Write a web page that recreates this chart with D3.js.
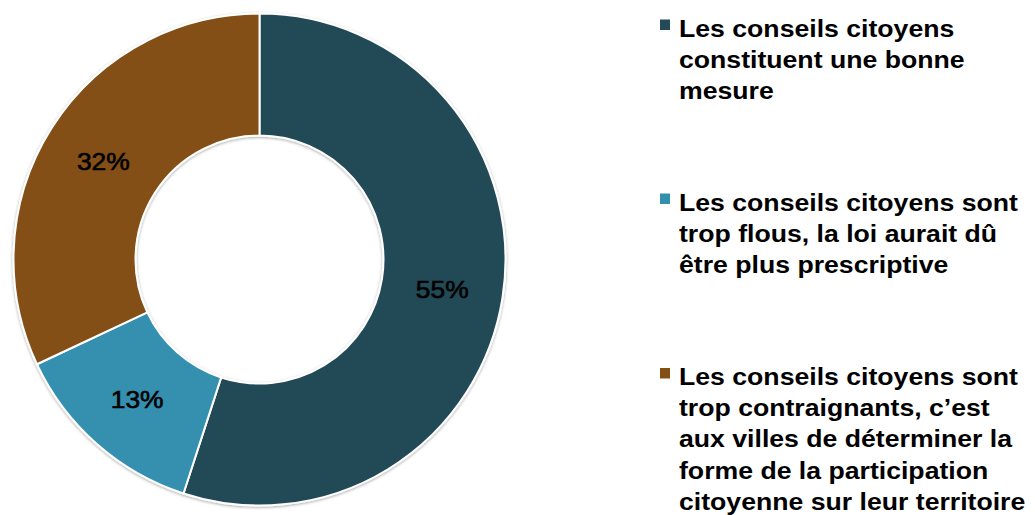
<!DOCTYPE html>
<html>
<head>
<meta charset="utf-8">
<script src="https://cdn.jsdelivr.net/npm/d3@7"></script>
<style>
  html, body { margin: 0; padding: 0; background: #ffffff; }
  svg { display: block; }
  text { font-family: "Liberation Sans", Arial, Helvetica, sans-serif; }
</style>
</head>
<body>
<svg id="chart" width="1035" height="515"></svg>
<script>
// Survey answers on the "conseils citoyens"
const categories = [
  "Les conseils citoyens constituent une bonne mesure",
  "Les conseils citoyens sont trop flous, la loi aurait dû être plus prescriptive",
  "Les conseils citoyens sont trop contraignants, c’est aux villes de déterminer la forme de la participation citoyenne sur leur territoire"
];
const values = [55, 13, 32];
const percentLabels = ["55%", "13%", "32%"];
const legendLines = [
  ["Les conseils citoyens", "constituent une bonne", "mesure"],
  ["Les conseils citoyens sont", "trop flous, la loi aurait dû", "être plus prescriptive"],
  ["Les conseils citoyens sont", "trop contraignants, c’est", "aux villes de déterminer la", "forme de la participation", "citoyenne sur leur territoire"]
];
const colors = ["#244957", "#348faf", "#834f12"];

const svg = d3.select("#chart");

// Soft shadow under the ring
const defs = svg.append("defs");
const f = defs.append("filter").attr("id", "ringShadow")
  .attr("x", "-10%").attr("y", "-10%").attr("width", "120%").attr("height", "120%");
f.append("feDropShadow").attr("dx", 0).attr("dy", 1).attr("stdDeviation", 1.6)
  .attr("flood-color", "#000").attr("flood-opacity", 0.35);

const cx = 259.5, cy = 259.5, outerR = 246, innerR = 124;

const color = d3.scaleOrdinal().domain(categories).range(colors);

const pie = d3.pie().sort(null).value(d => d.value);
const arc = d3.arc().innerRadius(innerR).outerRadius(outerR);
const data = categories.map((c, i) => ({ category: c, value: values[i], label: percentLabels[i] }));
const arcs = pie(data);

const g = svg.append("g").attr("transform", `translate(${cx},${cy})`);

g.append("g").attr("filter", "url(#ringShadow)")
  .selectAll("path").data(arcs).join("path")
  .attr("d", arc)
  .attr("fill", d => color(d.data.category))
  .attr("stroke", "#ffffff")
  .attr("stroke-width", 2)
  .attr("stroke-linejoin", "round");

const sx = 1.1;
g.selectAll("text.pct").data(arcs).join("text")
  .attr("class", "pct")
  .attr("transform", d => {
    const [x, y] = arc.centroid(d);
    return `translate(${x},${y + 1}) scale(${sx},1)`;
  })
  .attr("text-anchor", "middle")
  .attr("dy", "0.36em")
  .attr("font-size", 24)
  .attr("fill", "#000")
  .attr("stroke", "#000")
  .attr("stroke-width", 0.6)
  .text(d => d.data.label);

// Legend
const legendX = 660, textX = 679;
const itemY = d3.scaleOrdinal().domain(categories).range([36.5, 210.5, 385]);
const lineH = 31.2;

const legend = svg.append("g");
const items = legend.selectAll("g.item").data(data).join("g")
  .attr("class", "item")
  .attr("transform", d => `translate(0,${itemY(d.category)})`);

items.append("rect")
  .attr("x", legendX).attr("y", -17)
  .attr("width", 10).attr("height", 10.5)
  .attr("fill", d => color(d.category));

items.each(function(d, i) {
  const t = d3.select(this).append("text")
    .attr("transform", `translate(${textX},0) scale(1.11,1)`)
    .attr("font-size", 24)
    .attr("font-weight", "bold")
    .attr("fill", "#000");
  t.selectAll("tspan").data(legendLines[i]).join("tspan")
    .attr("x", 0)
    .attr("y", (l, j) => j * lineH)
    .text(l => l);
});
</script>
</body>
</html>
